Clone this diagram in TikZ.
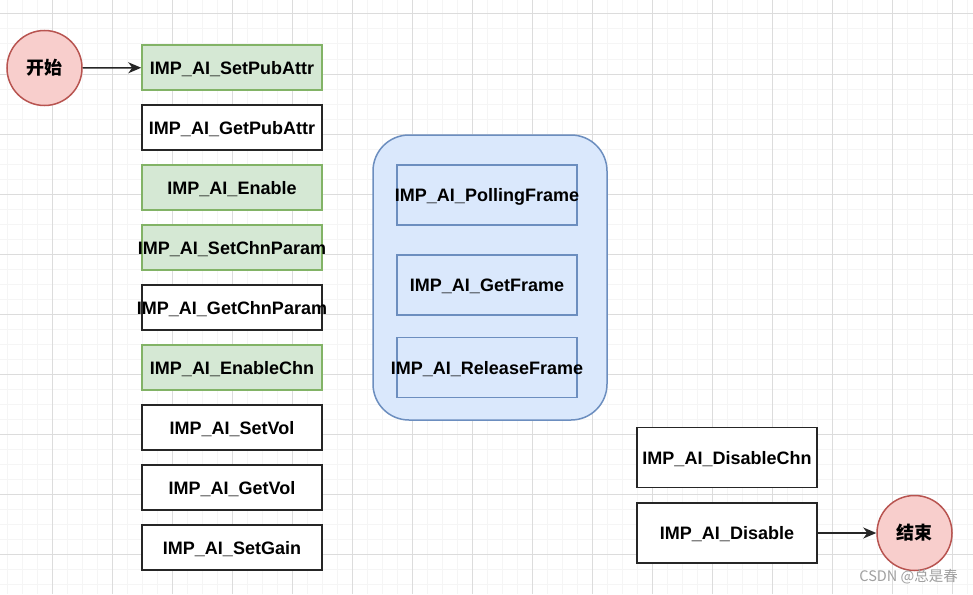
\documentclass[tikz,border=0pt]{standalone}
\usepackage{fontspec}
\setmainfont{Liberation Sans}
\newfontfamily\cjk{Noto Sans CJK SC}
\usetikzlibrary{arrows.meta}
\definecolor{gminor}{HTML}{F5F5F5}
\definecolor{gmajor}{HTML}{DCDCDC}
\definecolor{grfill}{HTML}{D5E8D4}
\definecolor{grline}{HTML}{82B366}
\definecolor{rdfill}{HTML}{F8CECC}
\definecolor{rdline}{HTML}{B85450}
\definecolor{blfill}{HTML}{DAE8FC}
\definecolor{blline}{HTML}{6C8EBF}
\definecolor{wmark}{HTML}{A0A0A0}
\newcommand{\fx}[1]{\makebox[0pt][c]{#1}}
\tikzset{
  lbl/.style={font=\fontsize{18}{20}\selectfont\bfseries, text=black, text depth=0pt},
  plainbox/.style={lbl, draw=black!85, fill=white, line width=1.5pt, minimum width=180pt, minimum height=45pt, inner sep=0pt},
  greenbox/.style={plainbox, draw=grline, fill=grfill},
  innerbox/.style={lbl, draw=blline, line width=1.5pt, minimum width=180pt, minimum height=60pt, inner sep=0pt},
  tallbox/.style={plainbox, minimum height=60pt},
  term/.style={circle, draw=rdline, fill=rdfill, line width=1.5pt, minimum size=75pt, inner sep=0pt, font=\cjk\fontsize{18}{20}\selectfont\bfseries},
  arr/.style={-{Stealth[length=13pt,width=11pt,inset=4pt]}, line width=1.5pt, draw=black!85},
}
\begin{document}
\begin{tikzpicture}[x=1pt,y=-1pt]
\useasboundingbox (0,0) rectangle (973,594);
\fill[white] (0,0) rectangle (973,594);
% grid
\foreach \gx in {7,22,...,967} \draw[gminor, line width=1pt] (\gx,0) -- (\gx,594);
\foreach \gy in {14,29,...,594} \draw[gminor, line width=1pt] (0,\gy) -- (973,\gy);
\foreach \gx in {52,112,...,952} \draw[gmajor, line width=1pt] (\gx,0) -- (\gx,594);
\foreach \gy in {14,74,...,594} \draw[gmajor, line width=1pt] (0,\gy) -- (973,\gy);

% start
\node[term] (start) at (44.5,68) {开始};

% left column
\node[greenbox] (b1) at (232,67.5) {\fx{IMP\_AI\_SetPubAttr}};
\node[plainbox] (b2) at (232,127.5) {\fx{IMP\_AI\_GetPubAttr}};
\node[greenbox] (b3) at (232,187.5) {\fx{IMP\_AI\_Enable}};
\node[greenbox] (b4) at (232,247.5) {\fx{IMP\_AI\_SetChnParam}};
\node[plainbox] (b5) at (232,307.5) {\fx{IMP\_AI\_GetChnParam}};
\node[greenbox] (b6) at (232,367.5) {\fx{IMP\_AI\_EnableChn}};
\node[plainbox] (b7) at (232,427.5) {\fx{IMP\_AI\_SetVol}};
\node[plainbox] (b8) at (232,487.5) {\fx{IMP\_AI\_GetVol}};
\node[plainbox] (b9) at (232,547.5) {\fx{IMP\_AI\_SetGain}};

\draw[arr] (start) -- (b1);

% container
\node[draw=blline, fill=blfill, line width=1.5pt, rounded corners=36pt, minimum width=234pt, minimum height=285pt, inner sep=0pt] (cont) at (490,277.5) {};
\node[innerbox] (f1) at (487,195) {\fx{IMP\_AI\_PollingFrame}};
\node[innerbox] (f2) at (487,285) {\fx{IMP\_AI\_GetFrame}};
\node[innerbox] (f3) at (487,367.5) {\fx{IMP\_AI\_ReleaseFrame}};

% right side
\node[tallbox] (d1) at (727,457.5) {\fx{IMP\_AI\_DisableChn}};
\node[tallbox] (d2) at (727,533) {\fx{IMP\_AI\_Disable}};
\node[term] (stop) at (914.5,533) {结束};
\draw[arr] (d2) -- (stop);

% watermark
\node[font=\cjk\fontsize{14.5}{16}\selectfont, text=wmark, anchor=east, inner sep=0pt] (wm) at (958,577) {CSDN @总是春};
\end{tikzpicture}
\end{document}
